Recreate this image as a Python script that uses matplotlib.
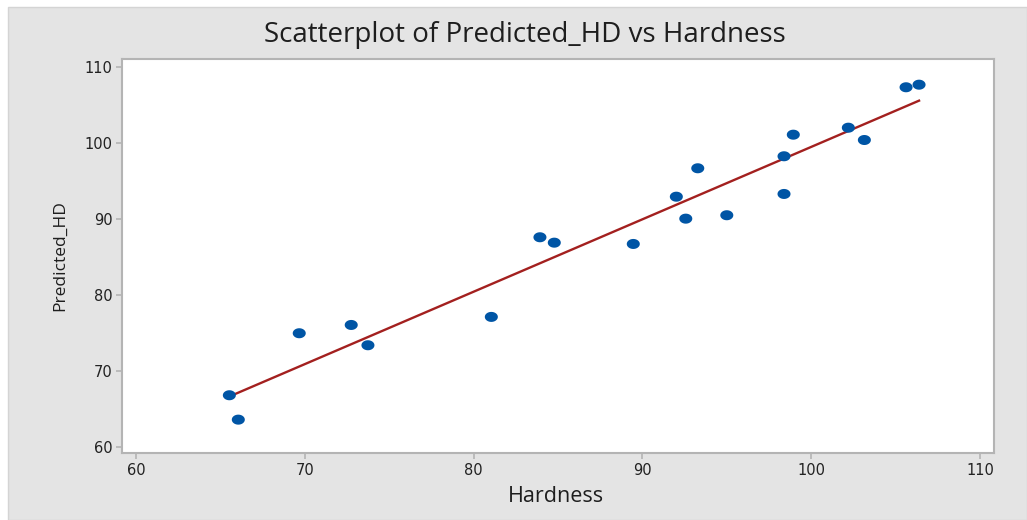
import numpy as np
import matplotlib
matplotlib.use("Agg")
import matplotlib.pyplot as plt
from matplotlib.path import Path
from matplotlib.patches import Rectangle

# Data
hardness = [65.53, 66.06, 69.67, 72.75, 73.74, 81.05, 83.93, 84.78, 89.46, 92.01,
            92.57, 93.28, 95.00, 98.39, 98.39, 98.94, 102.20, 103.15, 105.62, 106.39]
predicted_hd = [66.80, 63.59, 74.96, 76.05, 73.38, 77.11, 87.59, 86.88, 86.71, 92.93,
                90.04, 96.67, 90.49, 93.29, 98.25, 101.09, 102.01, 100.39, 107.33, 107.67]
x_ticks = [60, 70, 80, 90, 100, 110]
y_ticks = [60, 70, 80, 90, 100, 110]

title = "Scatterplot of Predicted_HD vs Hardness"
xlabel = "Hardness"
ylabel = "Predicted_HD"

W, H = 1027, 520
fig = plt.figure(figsize=(W / 100, H / 100), dpi=100, facecolor="white")

# gray panel background
bg = Rectangle((8 / W, 0), 1 - 8 / W, 1 - 7 / H, transform=fig.transFigure,
               facecolor="#e4e4e4", edgecolor="#d4d4d4", linewidth=1.0, zorder=-10)
fig.add_artist(bg)

ax = fig.add_axes([122 / W, 1 - 453 / H, (994 - 122) / W, (453 - 59) / H])
ax.set_facecolor("white")
ax.set_zorder(1)

# ellipse marker (slightly wider than tall)
t = np.linspace(0, 2 * np.pi, 60)
ell = Path(np.column_stack([1.3 * np.cos(t), np.sin(t)]), closed=True)

x = np.array(hardness)
y = np.array(predicted_hd)
coef = np.polyfit(x, y, 1)
xl = np.array([x.min(), x.max()])
ax.plot(xl, np.polyval(coef, xl), color="#a3201f", linewidth=1.7, zorder=2)
ax.scatter(x, y, marker=ell, s=88, color="#0055a5", edgecolors="none", zorder=3)

ax.set_xlim(59.17, 110.83)
ax.set_ylim(59.2, 111.05)
ax.set_xticks(x_ticks)
ax.set_yticks(y_ticks)

for s in ax.spines.values():
    s.set_color("#b4b4b4")
    s.set_linewidth(1.5)

ax.tick_params(axis="both", colors="#b4b4b4", length=4, width=1.2, labelsize=10.5,
               labelcolor="#222222", pad=3)
for lab in ax.get_xticklabels() + ax.get_yticklabels():
    lab.set_fontfamily(["DejaVu Sans"])

fig.text(525 / W, 1 - 35 / H, title, ha="center", va="center", fontsize=20,
         color="#1e1e1e", family=["Open Sans", "DejaVu Sans"])
fig.text(556 / W, 1 - 497 / H, xlabel, ha="center", va="center", fontsize=15.5,
         color="#1e1e1e", family=["Open Sans", "DejaVu Sans"])
fig.text(60 / W, 1 - 256 / H, ylabel, ha="center", va="center", fontsize=12.5,
         rotation=90, color="#1e1e1e", family=["Open Sans", "DejaVu Sans"])

fig.savefig("out.png", dpi=100, facecolor=fig.get_facecolor())
